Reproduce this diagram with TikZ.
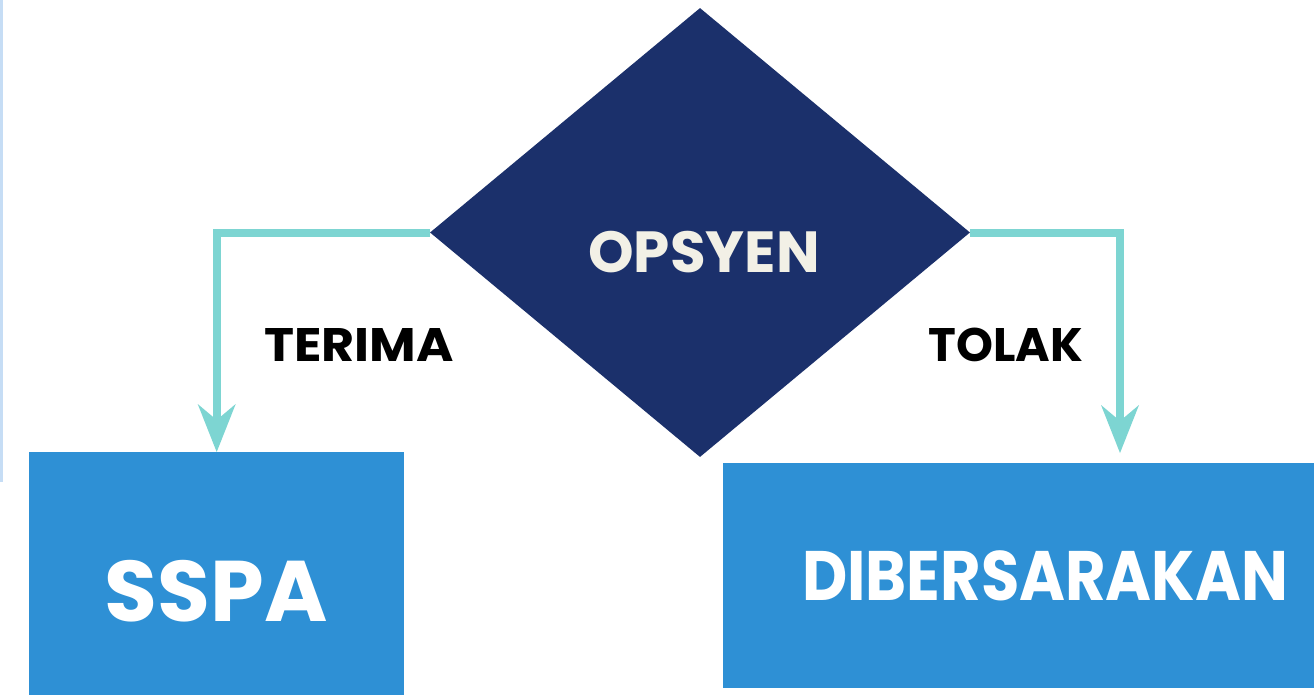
\documentclass[tikz,border=0pt]{standalone}
\usepackage{fontspec}
\setmainfont{Poppins}
\usetikzlibrary{shapes.geometric,arrows.meta}
\definecolor{navy}{HTML}{1B306B}
\definecolor{boxblue}{HTML}{2E90D5}
\definecolor{teal}{HTML}{7DD5D2}
\definecolor{edgeblue}{HTML}{C6DDF5}
\definecolor{cream}{HTML}{F2F0E6}
\tikzset{
  conn/.style={draw=teal, line width=8pt, -{Stealth[length=48pt, width=38pt, inset=16pt, line width=0pt]}},
  bluebox/.style={fill=boxblue, draw=none, inner sep=0pt, anchor=north west},
  lbl/.style={inner sep=0pt, font=\bfseries},
}
\begin{document}
\begin{tikzpicture}[x=1pt, y=-1pt]
\useasboundingbox (0,0) rectangle (1314,695);
\fill[white] (0,0) rectangle (1314,695);
% left edge line
\fill[edgeblue] (0,0) rectangle (3,482);
% diamond
\node[diamond, fill=navy, draw=none, inner sep=0pt, minimum width=540pt, minimum height=449pt] (dia) at (700,232.5) {};
\node[lbl, text=cream, font=\bfseries\fontsize{58}{60}\selectfont] (opsyen) at (704,252) {OPSYEN};
% boxes
\node[bluebox, minimum width=375pt, minimum height=250pt] (sspa) at (29,452) {};
\node[lbl, text=white, font=\bfseries\fontsize{86}{90}\selectfont] (sspat) at (216,591) {SSPA};
\node[bluebox, minimum width=591pt, minimum height=225pt] (dib) at (723,463) {};
\node[lbl, text=white, font=\bfseries\fontsize{70}{72}\selectfont] (dibt) at (1045,576) {\scalebox{0.89}[1]{DIBERSARAKAN}};
% labels
\node[lbl, text=black, font=\bfseries\fontsize{47}{50}\selectfont] (terima) at (359,345) {\scalebox{1.08}[1]{TERIMA}};
\node[lbl, text=black, font=\bfseries\fontsize{47}{50}\selectfont] (tolak) at (1006,345) {TOLAK};
% connectors
\coordinate (rt) at (1120,453);
\draw[conn] (dia.west) -| (sspa.north);
\draw[conn] (dia.east) -| (rt);
\end{tikzpicture}
\end{document}
